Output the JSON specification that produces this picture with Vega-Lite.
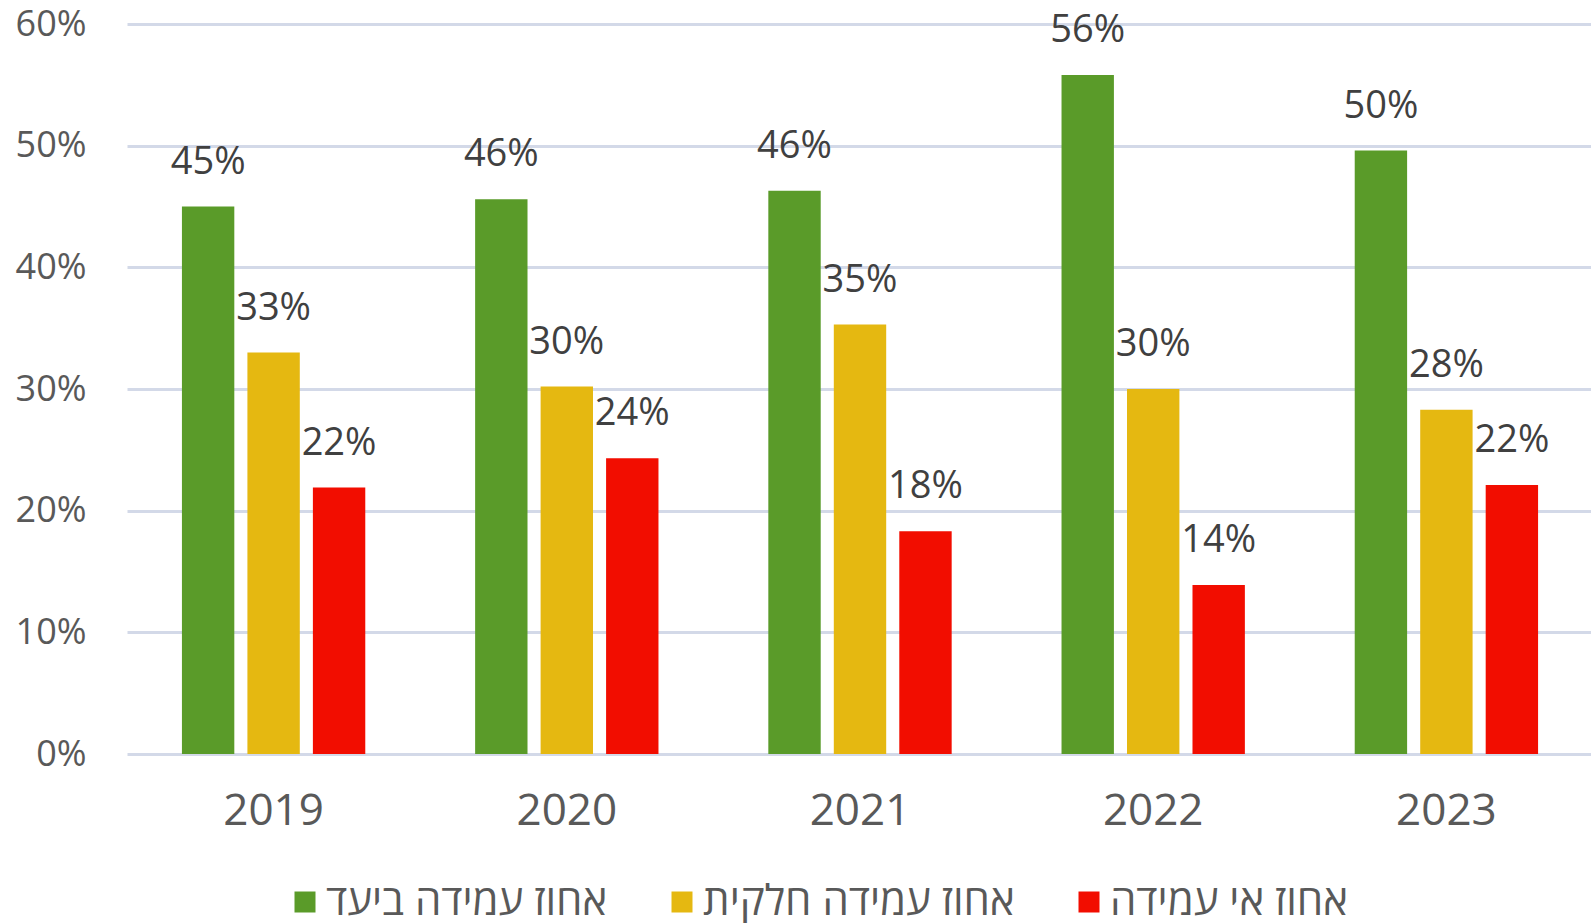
{
  "$schema": "https://vega.github.io/schema/vega-lite/v6.json",
  "width": 1466,
  "height": 730,
  "autosize": {"type": "none"},
  "padding": {"left": 127, "top": 24, "right": 0, "bottom": 169},
  "config": {"view": {"stroke": null}, "font": "Open Sans"},
  "data": {
    "values": [
      {"year": "2019", "cat": "אחוז עמידה ביעד", "value": 0.45},
      {"year": "2019", "cat": "אחוז עמידה חלקית", "value": 0.33},
      {"year": "2019", "cat": "אחוז אי עמידה", "value": 0.219},
      {"year": "2020", "cat": "אחוז עמידה ביעד", "value": 0.456},
      {"year": "2020", "cat": "אחוז עמידה חלקית", "value": 0.302},
      {"year": "2020", "cat": "אחוז אי עמידה", "value": 0.243},
      {"year": "2021", "cat": "אחוז עמידה ביעד", "value": 0.463},
      {"year": "2021", "cat": "אחוז עמידה חלקית", "value": 0.353},
      {"year": "2021", "cat": "אחוז אי עמידה", "value": 0.183},
      {"year": "2022", "cat": "אחוז עמידה ביעד", "value": 0.558},
      {"year": "2022", "cat": "אחוז עמידה חלקית", "value": 0.3},
      {"year": "2022", "cat": "אחוז אי עמידה", "value": 0.139},
      {"year": "2023", "cat": "אחוז עמידה ביעד", "value": 0.496},
      {"year": "2023", "cat": "אחוז עמידה חלקית", "value": 0.283},
      {"year": "2023", "cat": "אחוז אי עמידה", "value": 0.221}
    ]
  },
  "encoding": {
    "x": {
      "field": "year",
      "type": "nominal",
      "scale": {"paddingInner": 0.33, "paddingOuter": 0.165},
      "axis": {
        "title": null,
        "labelAngle": 0,
        "labelFontSize": 44,
        "labelColor": "#595959",
        "labelPadding": 35,
        "domain": false,
        "ticks": false
      }
    },
    "xOffset": {
      "field": "cat",
      "type": "nominal",
      "sort": ["אחוז עמידה ביעד", "אחוז עמידה חלקית", "אחוז אי עמידה"],
      "scale": {"paddingInner": 0.2, "paddingOuter": 0.1}
    },
    "y": {
      "field": "value",
      "type": "quantitative",
      "scale": {"domain": [0, 0.6]},
      "axis": {
        "title": null,
        "format": ".0%",
        "values": [0, 0.1, 0.2, 0.3, 0.4, 0.5, 0.6],
        "labelFontSize": 36,
        "labelColor": "#595959",
        "labelPadding": 41,
        "domain": false,
        "ticks": false,
        "gridColor": "#D3D9E8",
        "gridWidth": 3
      }
    }
  },
  "layer": [
    {
      "mark": {"type": "bar"},
      "encoding": {
        "color": {
          "field": "cat",
          "type": "nominal",
          "sort": ["אחוז עמידה ביעד", "אחוז עמידה חלקית", "אחוז אי עמידה"],
          "scale": {
            "domain": ["אחוז עמידה ביעד", "אחוז עמידה חלקית", "אחוז אי עמידה"],
            "range": ["#5A9B29", "#E5B811", "#F20D00"]
          },
          "legend": {
            "title": null,
            "orient": "none",
            "direction": "horizontal",
            "legendX": 157,
            "legendY": 857,
            "symbolType": "square",
            "symbolSize": 441,
            "symbolStrokeWidth": 0,
            "labelFontSize": 42,
            "labelColor": "#595959",
            "labelOffset": 0,
            "columnPadding": 53,
            "labelLimit": 500
          }
        }
      }
    },
    {
      "mark": {"type": "text", "dy": -33, "baseline": "alphabetic", "fontSize": 38, "color": "#404040"},
      "encoding": {
        "text": {"field": "value", "type": "quantitative", "format": ".0%"}
      }
    }
  ]
}
